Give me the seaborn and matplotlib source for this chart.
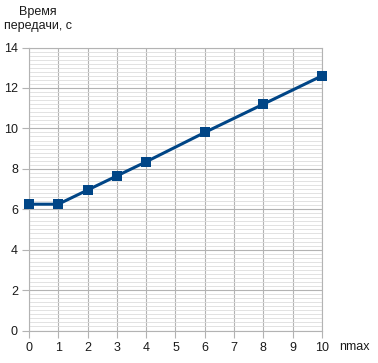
import matplotlib
matplotlib.use('Agg')
import matplotlib.pyplot as plt
import numpy as np
import pandas as pd
import seaborn as sns
from matplotlib.ticker import MultipleLocator

nmax = [0, 1, 2, 3, 4, 6, 8, 10]
vremya = [6.25, 6.25, 6.95, 7.65, 8.35, 9.8, 11.2, 12.6]
df = pd.DataFrame({'nmax': nmax, 'vremya': vremya})

sns.set_style('white')
plt.rcParams['font.family'] = ['Liberation Sans', 'DejaVu Sans']

fig = plt.figure(figsize=(3.78, 3.63), dpi=100)
ax = fig.add_axes([0.0767, 0.0895, 0.775, 0.7795])

sns.lineplot(data=df, x='nmax', y='vremya', ax=ax, color='#004586',
             linewidth=2.2, marker='s', markersize=7, markeredgewidth=0, zorder=5,
             clip_on=False)

ax.set_xlim(0, 10)
ax.set_ylim(0, 14)
ax.xaxis.set_major_locator(MultipleLocator(1))
ax.yaxis.set_major_locator(MultipleLocator(2))
ax.yaxis.set_minor_locator(MultipleLocator(0.2))
ax.grid(which='major', color='#b3b3b3', linewidth=0.8)
ax.grid(which='minor', axis='y', color='#dddddd', linewidth=0.6)
ax.set_axisbelow(True)
for s in ax.spines.values():
    s.set_color('#b3b3b3')
    s.set_linewidth(0.8)
ax.tick_params(which='major', length=5, color='#b3b3b3', labelsize=9,
               labelcolor='#1a1a1a', pad=3, bottom=True, left=True)
ax.tick_params(which='minor', length=0)

ax.set_xlabel('')
ax.set_ylabel('')
fig.text(0.1, 0.947, 'Время\nпередачи, с', ha='center', va='center',
         fontsize=9, color='#1a1a1a', linespacing=1.25)
fig.text(0.937, 0.044, 'nmax', ha='center', va='center', fontsize=9, color='#1a1a1a')

fig.savefig('out.png', dpi=100)
